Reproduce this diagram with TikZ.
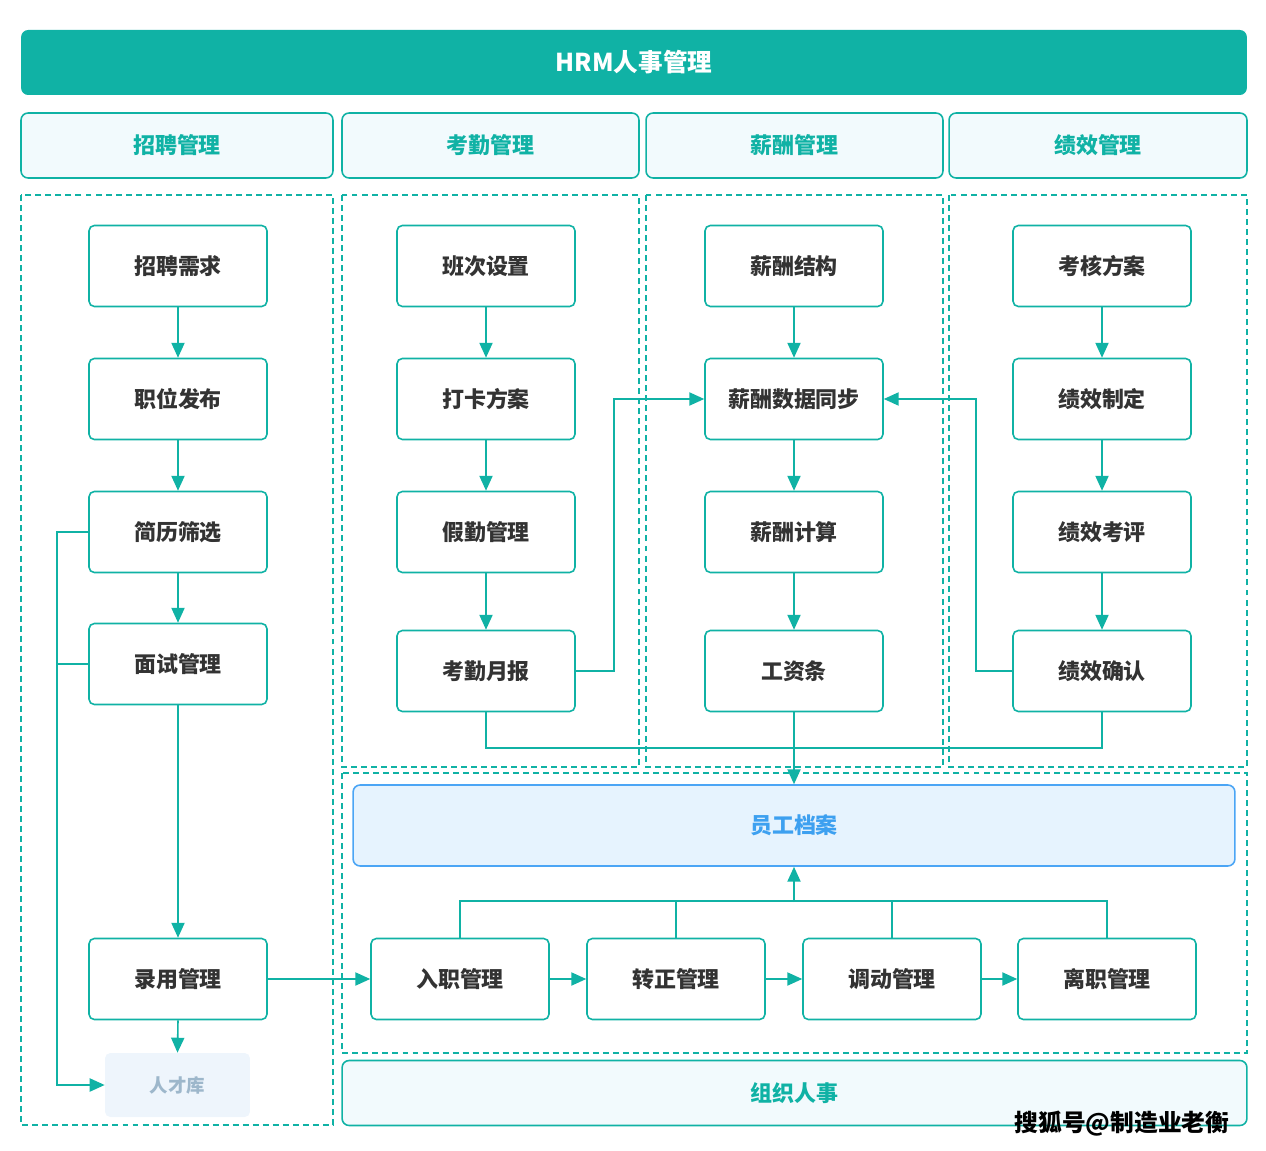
\documentclass[tikz,border=0pt]{standalone}
\usepackage{fontspec}
\setmainfont{Noto Sans CJK SC}
\usetikzlibrary{arrows.meta}
\definecolor{tl}{HTML}{10B2A5}
\definecolor{hdrfill}{HTML}{F2FAFD}
\definecolor{txt}{HTML}{333333}
\definecolor{empfill}{HTML}{E6F3FE}
\definecolor{empdraw}{HTML}{4BA5F5}
\definecolor{emptext}{HTML}{3DA0F0}
\definecolor{poolfill}{HTML}{EEF5FC}
\definecolor{pooltext}{HTML}{9DB7CB}
\tikzset{
  box/.style={draw=tl, line width=0.9pt, rounded corners=3pt, fill=white,
    minimum width=3.56cm, minimum height=1.62cm, inner sep=0pt,
    font=\fontsize{12.5}{14}\selectfont\bfseries, text=txt},
  hdr/.style={draw=tl, line width=0.9pt, rounded corners=4pt, fill=hdrfill,
    minimum height=1.3cm, inner sep=0pt,
    font=\fontsize{12.5}{14}\selectfont\bfseries, text=tl},
  area/.style={draw=tl, line width=0.8pt, dash pattern=on 3.4pt off 2.3pt},
  ln/.style={draw=tl, line width=0.9pt},
  arr/.style={draw=tl, line width=0.9pt, -{Triangle[length=8.5pt,width=7.5pt]}},
}
\begin{document}
\begin{tikzpicture}[x=0.02cm, y=-0.02cm]
\useasboundingbox (0,0) rectangle (1266,1151);
% title
\node[fill=tl, rounded corners=4pt, minimum width=24.52cm, minimum height=1.3cm,
  inner sep=0pt, text=white, font=\fontsize{14}{16}\selectfont\bfseries] (title) at (634,62.5) {HRM人事管理};
% headers
\node[hdr, minimum width=6.24cm] (h1) at (177,145.5) {招聘管理};
\node[hdr, minimum width=5.94cm] (h2) at (490.5,145.5) {考勤管理};
\node[hdr, minimum width=5.94cm] (h3) at (794.5,145.5) {薪酬管理};
\node[hdr, minimum width=5.96cm] (h4) at (1098,145.5) {绩效管理};
% dashed areas
\draw[area] (21,195) rectangle (333,1125);
\draw[area] (342,195) rectangle (639,767);
\draw[area] (646,195) rectangle (943,767);
\draw[area] (949,195) rectangle (1247,767);
\draw[area] (342,773) rectangle (1247,1053);
% column 1
\node[box] (a1) at (178,266) {招聘需求};
\node[box] (a2) at (178,399) {职位发布};
\node[box] (a3) at (178,532) {简历筛选};
\node[box] (a4) at (178,664) {面试管理};
\node[box] (a5) at (178,979) {录用管理};
\node[fill=poolfill, rounded corners=3pt, minimum width=2.9cm, minimum height=1.28cm,
  inner sep=0pt, text=pooltext, font=\fontsize{10.5}{12}\selectfont\bfseries] (pool) at (177.5,1085) {人才库};
% column 2
\node[box] (b1) at (486,266) {班次设置};
\node[box] (b2) at (486,399) {打卡方案};
\node[box] (b3) at (486,532) {假勤管理};
\node[box] (b4) at (486,671) {考勤月报};
% column 3
\node[box] (c1) at (794,266) {薪酬结构};
\node[box] (c2) at (794,399) {薪酬数据同步};
\node[box] (c3) at (794,532) {薪酬计算};
\node[box] (c4) at (794,671) {工资条};
% column 4
\node[box] (d1) at (1102,266) {考核方案};
\node[box] (d2) at (1102,399) {绩效制定};
\node[box] (d3) at (1102,532) {绩效考评};
\node[box] (d4) at (1102,671) {绩效确认};
% employee file
\node[draw=empdraw, fill=empfill, line width=0.9pt, rounded corners=4pt,
  minimum width=17.64cm, minimum height=1.62cm, inner sep=0pt,
  text=emptext, font=\fontsize{12.5}{14}\selectfont\bfseries] (emp) at (794,825.5) {员工档案};
% bottom row
\node[box] (e1) at (460,979) {入职管理};
\node[box] (e2) at (676,979) {转正管理};
\node[box] (e3) at (892,979) {调动管理};
\node[box] (e4) at (1107,979) {离职管理};
% org
\node[hdr, minimum width=18.1cm] (org) at (794.5,1093) {组织人事};
% connectors col1
\draw[arr] (a1.south) -- (a2.north);
\draw[arr] (a2.south) -- (a3.north);
\draw[arr] (a3.south) -- (a4.north);
\draw[arr] (a4.south) -- (a5.north);
\draw[arr] (a5.south) -- (pool.north);
\draw[arr] (a3.west) -- ++(-31,0) |- (pool.west);
\draw[ln] (a4.west) -- ++(-31,0);
\draw[arr] (a5.east) -- (e1.west);
% col2
\draw[arr] (b1.south) -- (b2.north);
\draw[arr] (b2.south) -- (b3.north);
\draw[arr] (b3.south) -- (b4.north);
% col3
\draw[arr] (c1.south) -- (c2.north);
\draw[arr] (c2.south) -- (c3.north);
\draw[arr] (c3.south) -- (c4.north);
% col4
\draw[arr] (d1.south) -- (d2.north);
\draw[arr] (d2.south) -- (d3.north);
\draw[arr] (d3.south) -- (d4.north);
% cross links
\draw[arr] (b4.east) -- ++(38,0) |- (c2.west);
\draw[arr] (d4.west) -- ++(-36,0) |- (c2.east);
\draw[ln] (b4.south) -- ++(0,36) -| (d4.south);
\draw[arr] (c4.south) -- (emp.north);
% bottom bus
\coordinate (bus) at (794,902);
\draw[ln] (e1.north) -- ++(0,-37) -| (e4.north);
\draw[ln] (e2.north) -- ++(0,-37);
\draw[ln] (e3.north) -- ++(0,-37);
\draw[arr] (bus) -- (emp.south);
\draw[arr] (e1.east) -- (e2.west);
\draw[arr] (e2.east) -- (e3.west);
\draw[arr] (e3.east) -- (e4.west);
% watermark
\node[text=black, font=\fontsize{13.5}{15}\selectfont\bfseries, inner sep=0pt] (wm) at (1122,1124) {搜狐号@制造业老衡};
\end{tikzpicture}
\end{document}
